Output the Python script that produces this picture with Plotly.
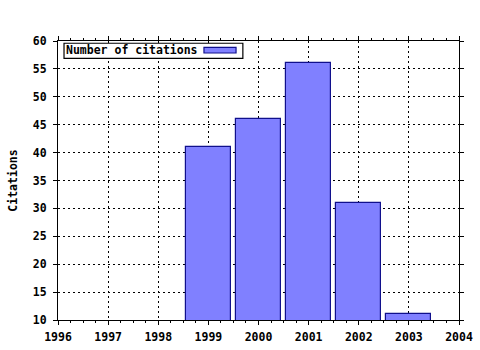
import plotly.graph_objects as go

years = [1999, 2000, 2001, 2002, 2003]
citations = [41, 46, 56, 31, 11]
x_ticks = [1996, 1997, 1998, 1999, 2000, 2001, 2002, 2003, 2004]
y_ticks = [10, 15, 20, 25, 30, 35, 40, 45, 50, 55, 60]
series_name = "Number of citations"

FONT = dict(family="DejaVu Sans Mono", size=11.5, color="black")
BAR_FILL = "#8080ff"
BAR_LINE = "#10108c"

fig = go.Figure()
fig.add_trace(go.Bar(
    x=years, y=citations, width=0.9, name=series_name,
    marker=dict(color=BAR_FILL, line=dict(color=BAR_LINE, width=1.2)),
    showlegend=False,
))

axis_common = dict(
    showline=True, linecolor="black", linewidth=1.2, mirror="allticks",
    ticks="outside", ticklen=4, tickcolor="black", tickwidth=1,
    showgrid=True, gridcolor="black", griddash="2px,3px", gridwidth=1,
    zeroline=False, automargin=False, tickfont=FONT,
)

fig.update_xaxes(
    range=[1996, 2004], tickmode="array", tickvals=x_ticks,
    ticktext=[f"<b>{t}</b>" for t in x_ticks],
    ticklabelstandoff=2,
    minor=dict(dtick=0.25, ticks="outside", ticklen=2, tickcolor="black", showgrid=False),
    **axis_common,
)
fig.update_yaxes(
    range=[10, 60], tickmode="array", tickvals=y_ticks,
    ticktext=[f"<b>{t}</b>" for t in y_ticks],
    ticklabelstandoff=4,
    title=dict(text="<b>Citations</b>", font=FONT, standoff=12),
    **axis_common,
)

# legend drawn in gnuplot style (text then swatch, boxed)
fig.add_shape(type="rect", xref="paper", yref="paper",
              x0=0.015, x1=0.461, y0=0.938, y1=0.992,
              line=dict(color="black", width=1.2), fillcolor="white", layer="above")
fig.add_annotation(xref="paper", yref="paper", x=0.014, y=0.966,
                   xanchor="left", yanchor="middle", showarrow=False,
                   text=f"<b>{series_name}</b>", font=FONT)
fig.add_shape(type="rect", xref="paper", yref="paper",
              x0=0.364, x1=0.444, y0=0.957, y1=0.977,
              line=dict(color=BAR_LINE, width=1.2), fillcolor=BAR_FILL, layer="above")

fig.update_layout(
    width=480, height=350,
    margin=dict(l=58, r=21, t=41, b=30),
    paper_bgcolor="white", plot_bgcolor="white",
    font=FONT, bargap=0,
)

fig.write_html("out.html")
